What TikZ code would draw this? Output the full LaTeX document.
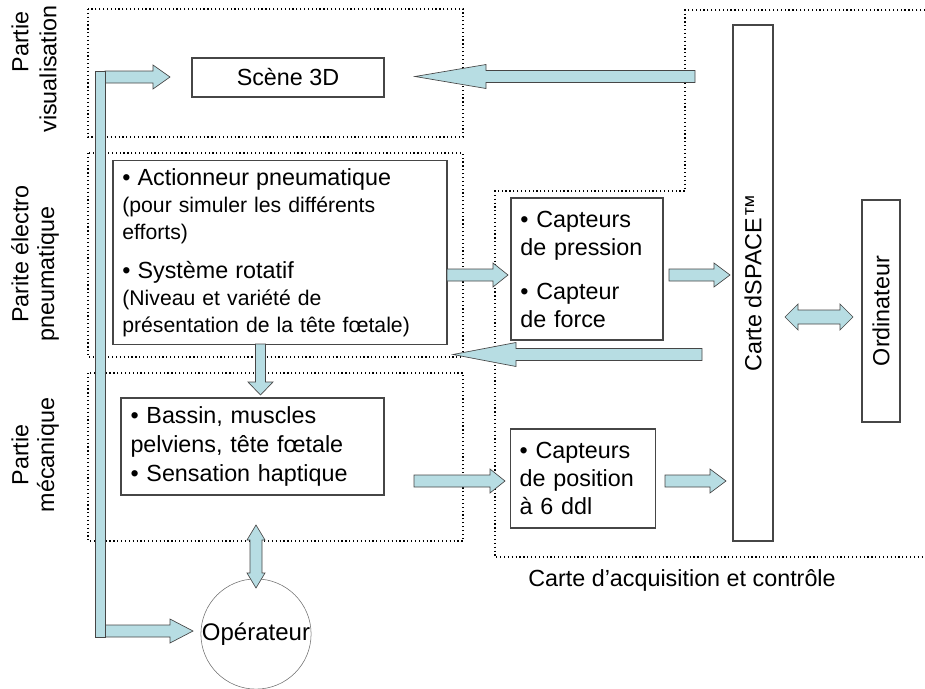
\documentclass[tikz,border=0pt]{standalone}
\usepackage{fontspec}
\setmainfont{Liberation Sans}
\usetikzlibrary{calc}
\definecolor{arrowfill}{RGB}{183,221,227}
\definecolor{edgegray}{RGB}{70,70,70}

% block arrows (tail, tip, signed head length)
\newcommand{\hblock}[3]{%
  \draw[blockarrow] ($(#1)+(0,-6)$) -- ($(#2)+({-(#3)},-6)$) -- ($(#2)+({-(#3)},-12)$) -- (#2)
    -- ($(#2)+({-(#3)},12)$) -- ($(#2)+({-(#3)},6)$) -- ($(#1)+(0,6)$) -- cycle;}
\newcommand{\vblock}[3]{%
  \draw[blockarrow] ($(#1)+(-5,0)$) -- ($(#2)+(-5,{-(#3)})$) -- ($(#2)+(-12.5,{-(#3)})$) -- (#2)
    -- ($(#2)+(12.5,{-(#3)})$) -- ($(#2)+(5,{-(#3)})$) -- ($(#1)+(5,0)$) -- cycle;}
% double block arrows (first tip, second tip, head length)
\newcommand{\hdblock}[3]{%
  \draw[blockarrow] (#1) -- ($(#1)+(#3,-13)$) -- ($(#1)+(#3,-7)$) -- ($(#2)+(-#3,-7)$) -- ($(#2)+(-#3,-13)$) -- (#2)
    -- ($(#2)+(-#3,13)$) -- ($(#2)+(-#3,7)$) -- ($(#1)+(#3,7)$) -- ($(#1)+(#3,13)$) -- cycle;}
\newcommand{\vdblock}[3]{%
  \draw[blockarrow] (#1) -- ($(#1)+(-9,#3)$) -- ($(#1)+(-6,#3)$) -- ($(#2)+(-6,-#3)$) -- ($(#2)+(-9,-#3)$) -- (#2)
    -- ($(#2)+(9,-#3)$) -- ($(#2)+(6,-#3)$) -- ($(#1)+(6,#3)$) -- ($(#1)+(9,#3)$) -- cycle;}

\begin{document}
\begin{tikzpicture}[x=0.75pt,y=-0.75pt,
    box/.style={draw=edgegray,line width=0.8pt,inner xsep=7pt,inner ysep=0pt},
    zone/.style={dotted,line width=0.9pt},
    blockarrow/.style={draw=edgegray,fill=arrowfill,line width=0.5pt},
    big/.style={font=\fontsize{17.5}{21}\selectfont},
    small/.style={font=\fontsize{15.9}{20.25}\selectfont}]
  \useasboundingbox (0,0) rectangle (925,689);

  % zones
  \draw[zone] (88,9) rectangle (463,137);
  \draw[zone] (88,153) rectangle (463,357);
  \draw[zone] (88,373) rectangle (463,541);
  \draw[zone] (925,10) -- (685,10) -- (685,191) -- (495,191) -- (495,557) -- (925,557);

  % side labels
  \node[big,rotate=90] (visa) at (20,42) {Partie};
  \node[big,rotate=90] (visb) at (48,69) {visualisation};
  \node[big,rotate=90] (elea) at (20,254) {Parite électro};
  \node[big,rotate=90] (eleb) at (48,274) {pneumatique};
  \node[big,rotate=90] (meca) at (20,455) {Partie};
  \node[big,rotate=90] (mecb) at (48,455) {mécanique};

  % boxes
  \node[box,big,minimum width=144pt,minimum height=29.25pt] (scene) at (288,77.5) {Scène 3D};
  \node[box,small,minimum width=250.5pt,minimum height=138pt,text width=236.5pt,align=left] (act) at (280,252.5)
    {{\fontsize{17.5}{20.25}\selectfont • Actionneur pneumatique}\\
     (pour simuler les différents\\
     efforts)\\[9pt]
     {\fontsize{17.5}{20.25}\selectfont • Système rotatif}\\
     (Niveau et variété de\\
     présentation de la tête fœtale)};
  \node[box,big,minimum width=114pt,minimum height=106.5pt,text width=100pt,align=left] (capp) at (587,269)
    {• Capteurs\\ de pression\\[12pt] • Capteur\\ de force};
  \node[box,big,minimum width=197.25pt,minimum height=72.75pt,text width=183pt,align=left] (bassin) at (252.5,446.5)
    {• Bassin, muscles\\[1pt] pelviens, tête fœtale\\[1pt] • Sensation haptique};
  \node[box,big,minimum width=108pt,minimum height=74.25pt,text width=95pt,align=left] (cappos) at (583,478.5)
    {• Capteurs\\ de position\\ à 6 ddl};
  \node[box,big,rotate=90,minimum width=387pt,minimum height=30pt] (dsp) at (753,283) {Carte dSPACE™};
  \node[box,big,rotate=90,minimum width=166.5pt,minimum height=28.5pt] (ordi) at (881,311) {Ordinateur};
  \node[draw=edgegray!80,circle,minimum size=82pt,inner sep=0pt,font=\fontsize{18}{21}\selectfont] (oper) at (256,634) {Opérateur};
  \node[big] (acq) at (682,580) {Carte d’acquisition et contrôle};

  % arrow ends
  \coordinate (s1) at (105,77);    \coordinate (t1) at (170,77);
  \coordinate (s2) at (105,631);   \coordinate (t2) at (193,631);
  \coordinate (s3) at (695,76.5);  \coordinate (t3) at (415,76.5);
  \coordinate (s4) at (447,275);   \coordinate (t4) at (508,275);
  \coordinate (s5) at (669,275);   \coordinate (t5) at (730,275);
  \coordinate (s6) at (702,354.5); \coordinate (t6) at (453,354.5);
  \coordinate (s7) at (414,481);   \coordinate (t7) at (505,481);
  \coordinate (s8) at (665,481);   \coordinate (t8) at (726,481);
  \coordinate (s9) at (260.5,344); \coordinate (t9) at (260.5,395);
  \coordinate (u1) at (256,525);   \coordinate (u2) at (256,588);
  \coordinate (w1) at (785,317);   \coordinate (w2) at (853,317);

  \hblock{s1}{t1}{17}
  \hblock{s2}{t2}{23}
  \draw[blockarrow] (95,71) rectangle (105,637);
  \hblock{s3}{t3}{-71}
  \hblock{s4}{t4}{15}
  \hblock{s5}{t5}{16}
  \hblock{s6}{t6}{-63}
  \hblock{s7}{t7}{15}
  \hblock{s8}{t8}{16}
  \vblock{s9}{t9}{13}
  \vdblock{u1}{u2}{15}
  \hdblock{w1}{w2}{13}
\end{tikzpicture}
\end{document}
